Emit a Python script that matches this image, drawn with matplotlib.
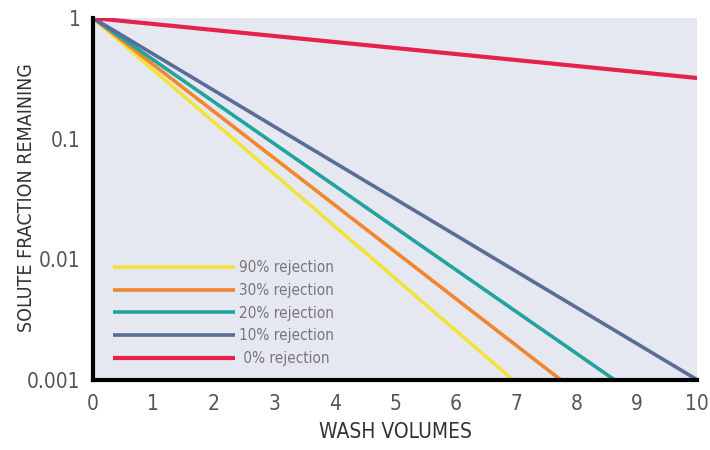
import matplotlib.pyplot as plt
from matplotlib.ticker import FixedLocator, FixedFormatter

# Each line runs from (0, 1) to the point where it leaves the chart
labels = ['90% rejection', '30% rejection', '20% rejection', '10% rejection', ' 0% rejection']
x_start = [0, 0, 0, 0, 0]
y_start = [1, 1, 1, 1, 1]
x_end = [6.95, 7.74, 8.63, 10.0, 10.0]
y_end = [0.001, 0.001, 0.001, 0.001, 0.318]
colors = ['#f4e23c', '#f0872e', '#22a39e', '#5a6c98', '#e6224c']

x_ticks = [0, 1, 2, 3, 4, 5, 6, 7, 8, 9, 10]
y_ticks = [0.001, 0.01, 0.1, 1]
y_tick_labels = ['0.001', '0.01', '0.1', '1']

font = ['DejaVu Sans']
grey = '#555555'

fig = plt.figure(figsize=(7.1, 4.5), dpi=100)
ax = fig.add_axes([0.131, 0.156, 0.851, 0.804])
ax.set_facecolor('#e5e8f0')

for i in range(len(labels)):
    ax.plot([x_start[i], x_end[i]], [y_start[i], y_end[i]], color=colors[i],
            linewidth=3 if i == 4 else 2.6, label=labels[i], solid_capstyle='butt')

ax.set_yscale('log')
ax.set_xlim(0, 10)
ax.set_ylim(0.001, 1)
ax.xaxis.set_major_locator(FixedLocator(x_ticks))
ax.yaxis.set_major_locator(FixedLocator(y_ticks))
ax.yaxis.set_major_formatter(FixedFormatter(y_tick_labels))
ax.yaxis.set_minor_locator(FixedLocator([]))
ax.tick_params(axis='x', length=0, pad=10, labelcolor=grey, labelsize=15)
ax.tick_params(axis='y', length=0, pad=9, labelcolor=grey, labelsize=15)
for lab in ax.get_xticklabels() + ax.get_yticklabels():
    lab.set_family(font)
    lab.set_fontstretch('condensed')

for s in ['top', 'right']:
    ax.spines[s].set_visible(False)
for s in ['left', 'bottom']:
    ax.spines[s].set_linewidth(3)
    ax.spines[s].set_color('black')

ax.set_xlabel('WASH VOLUMES', family=font, fontstretch='condensed', fontsize=15,
              color='#333333', labelpad=6)
fig.text(27 / 710, 1 - 198 / 450, 'SOLUTE FRACTION REMAINING', family=font,
         fontstretch='condensed', fontsize=14, color='#333333', rotation=90,
         ha='center', va='center')

leg = ax.legend(loc='lower left', bbox_to_anchor=(0.01, 0.0), frameon=False,
                handlelength=8.0, handletextpad=0.25, labelspacing=0.5,
                prop={'family': font, 'size': 11, 'stretch': 'condensed'})
for t in leg.get_texts():
    t.set_color('#777777')

fig.savefig('out.png', dpi=100)
